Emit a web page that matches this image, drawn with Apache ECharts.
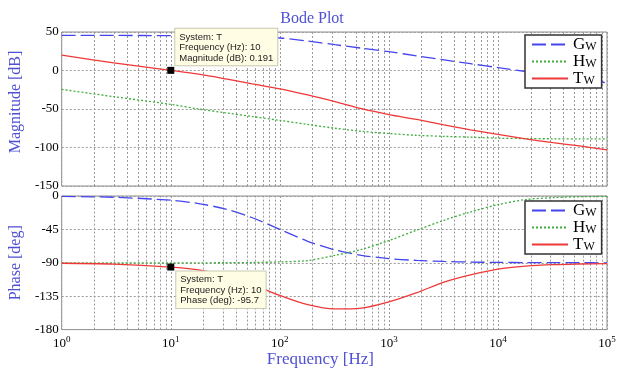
<!DOCTYPE html>
<html><head><meta charset="utf-8">
<script src="https://cdn.jsdelivr.net/npm/echarts@6/dist/echarts.min.js"></script>
<style>html,body{margin:0;padding:0;background:#fff}#c{width:624px;height:369px}</style>
</head><body><div id="c"></div>
<script>
// frequencies (Hz) at which values were read
const freq   = [1, 3, 10, 18, 32, 56, 100, 180, 320, 560, 1000, 1800, 3200, 5600, 10000, 18000, 32000, 56000, 100000];
// magnitude (dB)
const gMag   = [45.5, 45.5, 45.3, 45, 44.6, 43.7, 42.2, 38.2, 33.5, 29, 24.4, 19, 13.8, 8.8, 3.8, -1.3, -6, -11, -16];
const hMag   = [-24.5, -34, -44, -50, -55, -59.8, -64.8, -70, -75, -79, -81.8, -84.2, -85.5, -86.6, -87.9, -88.4, -88.7, -88.8, -88.8];
const tMag   = [20, 10, 0.191, -4.8, -11, -17.5, -23.8, -31.8, -40.5, -49.6, -57.2, -63.6, -70.6, -77, -83, -88.8, -93.8, -98, -103];
// phase (deg)
const gPhase = [-0.6, -1.7, -5.7, -10.2, -17.7, -29.3, -45, -61, -72.6, -79.9, -84.3, -86.8, -88.2, -89, -89.4, -89.7, -89.8, -89.9, -90];
const hPhase = [-90, -90, -90, -90, -89.9, -89.6, -88.8, -87, -80, -72, -60, -46, -32.7, -21.5, -11.7, -4.8, -2.2, -1, -0.5];
const tPhase = [-90.6, -91.7, -95.7, -99.5, -107, -119, -134, -146.5, -152.2, -151, -142.7, -130.3, -116, -106.4, -98.5, -94.5, -92.5, -91.6, -91];
// axis ticks
const magTicks   = {min: -150, max: 50, interval: 50};
const phaseTicks = {min: -180, max: 0, interval: 45};
const minorFreqs = [2,3,4,5,6,7,8,9, 20,30,40,50,60,70,80,90, 200,300,400,500,600,700,800,900,
  2000,3000,4000,5000,6000,7000,8000,9000, 20000,30000,40000,50000,60000,70000,80000,90000];
// data tip
const tipFreq = 10, tipMag = 0.191, tipPhase = -95.7;
const names = ['G', 'H', 'T'];

const SERIF = 'Liberation Serif';
const BLUE_TXT = '#5050d4';
const colors = {G: '#4545ee', H: '#3fae3f', T: '#ee3838'};
const dashes = {G: [14, 5], H: [2, 2], T: 'solid'};
const grids = [{left: 58, right: 17, top: 32, height: 154}, {left: 58, right: 17, top: 196, height: 138}];
const gridLine = {color: '#9a9a9a', type: [2, 2], width: 1};

const pair = (ys) => freq.map((f, i) => [f, ys[i]]);

function mkSeries(name, ys, gi) {
  return {
    name, type: 'line', xAxisIndex: gi, yAxisIndex: gi, data: pair(ys),
    symbol: 'none', smooth: 0.3, z: 3,
    lineStyle: {color: colors[name], width: 1.3, type: dashes[name]},
    itemStyle: {color: colors[name]}, animation: false
  };
}
function minorSeries(gi) {
  return {
    type: 'line', xAxisIndex: gi, yAxisIndex: gi, data: [[1, 0]], symbol: 'none',
    lineStyle: {width: 0, opacity: 0}, silent: true, animation: false,
    markLine: {silent: true, symbol: ['none', 'none'], z: 1, animation: false,
      label: {show: false}, lineStyle: gridLine, emphasis: {disabled: true},
      data: minorFreqs.map(v => ({xAxis: v}))}
  };
}
const tipLabel = {
  show: true, fontFamily: 'Liberation Sans', fontSize: 9.5, lineHeight: 10.5, color: '#222',
  backgroundColor: '#fffde3', borderColor: '#c8c8b4', borderWidth: 1, padding: [3, 4, 2, 4]
};
function legend(top) {
  return {
    data: names, orient: 'vertical', left: 525, top, itemWidth: 36, itemHeight: 14, itemGap: 0,
    itemTextGap: 4, padding: [1, 5, 1, 6], borderColor: '#333', borderWidth: 1.5, backgroundColor: '#fff',
    selectedMode: false,
    itemStyle: {opacity: 0, borderWidth: 0},
    formatter: n => '{m|' + n + '}{s|W}',
    textStyle: {rich: {
      m: {fontSize: 17, fontFamily: SERIF, color: '#000', lineHeight: 17},
      s: {fontSize: 12, fontFamily: SERIF, color: '#000', lineHeight: 12, verticalAlign: 'bottom'}
    }}
  };
}
const axisLabelY = {fontFamily: SERIF, fontSize: 13, color: '#000', margin: 3};

const series = [
  minorSeries(0), minorSeries(1),
  mkSeries('G', gMag, 0), mkSeries('H', hMag, 0), mkSeries('T', tMag, 0),
  mkSeries('G', gPhase, 1), mkSeries('H', hPhase, 1), mkSeries('T', tPhase, 1)
];
series[4].markPoint = {
  symbol: 'rect', symbolSize: 7, itemStyle: {color: '#000'}, animation: false, z: 6,
  data: [{coord: [tipFreq, tipMag]}],
  label: Object.assign({}, tipLabel, {position: [8, -38],
    formatter: () => 'System: T\nFrequency (Hz): ' + tipFreq + '\nMagnitude (dB): ' + tipMag})
};
series[7].markPoint = {
  symbol: 'rect', symbolSize: 7, itemStyle: {color: '#000'}, animation: false, z: 6,
  data: [{coord: [tipFreq, tipPhase]}],
  label: Object.assign({}, tipLabel, {position: [9, 8],
    formatter: () => 'System: T\nFrequency (Hz): ' + tipFreq + '\nPhase (deg): ' + tipPhase})
};

const xCommon = {
  type: 'log', logBase: 10, min: 1, max: 100000,
  axisLine: {show: false}, axisTick: {show: false},
  splitLine: {show: true, lineStyle: gridLine}
};
const option = {
  backgroundColor: '#fff',
  animation: false,
  title: {text: 'Bode Plot', left: 'center', top: 11, padding: 0,
    textStyle: {fontFamily: SERIF, fontSize: 16, fontWeight: 'normal', color: BLUE_TXT}},
  legend: [legend(35), legend(201)],
  grid: grids.map(g => Object.assign({show: true, borderColor: '#8c8c8c', borderWidth: 1, backgroundColor: '#fff'}, g)),
  xAxis: [
    Object.assign({gridIndex: 0, axisLabel: {show: false}}, xCommon),
    Object.assign({gridIndex: 1,
      name: 'Frequency [Hz]', nameLocation: 'middle', nameGap: 15,
      nameTextStyle: {fontFamily: SERIF, fontSize: 17, color: BLUE_TXT, padding: [0, 28, 0, 0]},
      axisLabel: {margin: 6, formatter: v => '{b|10}{s|' + Math.round(Math.log10(v)) + '}',
        rich: {b: {fontFamily: SERIF, fontSize: 13, color: '#000', lineHeight: 16},
               s: {fontFamily: SERIF, fontSize: 9, color: '#000', lineHeight: 9, verticalAlign: 'top'}}}
    }, xCommon)
  ],
  yAxis: [
    Object.assign({gridIndex: 0, type: 'value', name: 'Magnitude [dB]', nameLocation: 'middle', nameGap: 27,
      nameTextStyle: {fontFamily: SERIF, fontSize: 16, color: BLUE_TXT, padding: [0, 0, 0, 14]},
      axisLine: {show: false}, axisTick: {show: false}, axisLabel: axisLabelY,
      splitLine: {show: true, lineStyle: gridLine}}, magTicks),
    Object.assign({gridIndex: 1, type: 'value', name: 'Phase [deg]', nameLocation: 'middle', nameGap: 27,
      nameTextStyle: {fontFamily: SERIF, fontSize: 16, color: BLUE_TXT},
      axisLine: {show: false}, axisTick: {show: false}, axisLabel: axisLabelY,
      splitLine: {show: true, lineStyle: gridLine}}, phaseTicks)
  ],
  series
};
const chart = echarts.init(document.getElementById('c'), null, {renderer: 'canvas'});
chart.setOption(option);
</script>
</body></html>
